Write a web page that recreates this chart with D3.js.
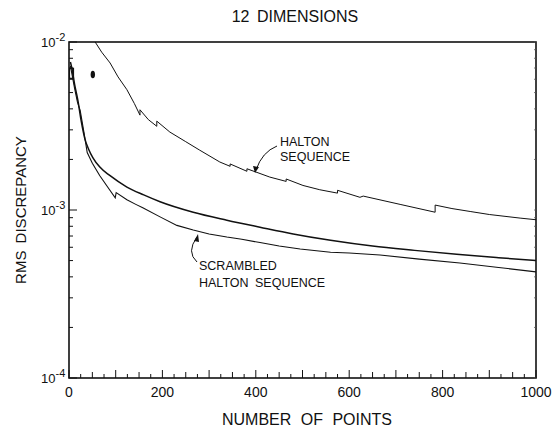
<!DOCTYPE html>
<html>
<head>
<meta charset="utf-8">
<script src="https://cdn.jsdelivr.net/npm/d3@7"></script>
<style>
  body { margin: 0; background: #fff; }
  text { font-family: "Liberation Sans", Arial, sans-serif; fill: #111; }
</style>
</head>
<body>
<div id="chart"></div>
<script>
// data
var haltonN = [45, 56, 70, 88, 105, 124, 140, 152, 152, 170, 188, 188, 216, 250, 280, 323, 345, 345, 381, 381,
  430, 465, 465, 501, 537, 575, 575, 623, 630, 709, 784, 784, 820, 859, 900, 966, 1000];
var haltonV = [1.25e-2, 1.0e-2, 8.7e-3, 7.5e-3, 6.2e-3, 5.2e-3, 4.3e-3, 3.67e-3, 3.95e-3, 3.45e-3, 3.15e-3, 3.38e-3,
  2.91e-3, 2.55e-3, 2.27e-3, 1.93e-3, 1.82e-3, 1.88e-3, 1.70e-3, 1.76e-3,
  1.57e-3, 1.48e-3, 1.53e-3, 1.40e-3, 1.32e-3, 1.26e-3, 1.31e-3, 1.19e-3, 1.21e-3, 1.08e-3, 9.7e-4, 1.07e-3,
  1.02e-3, 9.8e-4, 9.4e-4, 8.95e-4, 8.75e-4];

var smoothN = [3, 6, 12, 19, 26, 34, 42, 51, 66, 88, 124, 160, 195, 266, 338, 409, 480, 560, 650, 740, 830, 920, 1000];
var smoothV = [7.6e-3, 7.0e-3, 5.6e-3, 4.5e-3, 3.4e-3, 2.65e-3, 2.3e-3, 2.05e-3, 1.8e-3, 1.6e-3, 1.37e-3, 1.23e-3,
  1.12e-3, 9.7e-4, 8.7e-4, 7.9e-4, 7.2e-4, 6.6e-4, 6.1e-4, 5.75e-4, 5.45e-4, 5.2e-4, 5.0e-4];

var scrambledN = [3, 6, 12, 18, 24, 32, 39, 50, 66, 82, 99, 101, 124, 143, 158, 195, 231, 266, 300, 338, 370, 409,
  450, 495, 560, 600, 666, 750, 837, 920, 1000];
var scrambledV = [7.2e-3, 6.5e-3, 5.3e-3, 4.4e-3, 3.9e-3, 2.9e-3, 2.2e-3, 1.9e-3, 1.6e-3, 1.38e-3, 1.18e-3, 1.27e-3,
  1.15e-3, 1.08e-3, 1.03e-3, 9.1e-4, 8.1e-4, 7.6e-4, 7.2e-4, 6.9e-4, 6.7e-4, 6.4e-4,
  6.1e-4, 5.86e-4, 5.6e-4, 5.55e-4, 5.4e-4, 5.1e-4, 4.84e-4, 4.55e-4, 4.28e-4];

var markerN = [5, 51];
var markerV = [6.5e-3, 6.4e-3];

var xTicks = [0, 200, 400, 600, 800, 1000];
var yTickExp = [-2, -3, -4];

var W = 556, H = 435
  , m = { left: 69, right: 20, top: 42, bottom: 57 };

var x = d3.scaleLinear().domain([0, 1000]).range([m.left, W - m.right]);
var y = d3.scaleLog().domain([1e-4, 1e-2]).range([H - m.bottom, m.top]);

var svg = d3.select('#chart').append('svg')
  .attr('width', W).attr('height', H);

svg.append('clipPath').attr('id', 'clip')
  .append('rect')
  .attr('x', m.left).attr('y', m.top)
  .attr('width', x(1000) - x(0)).attr('height', y(1e-4) - y(1e-2));

// frame
svg.append('rect')
  .attr('x', m.left).attr('y', m.top)
  .attr('width', x(1000) - x(0)).attr('height', y(1e-4) - y(1e-2))
  .attr('fill', 'none').attr('stroke', '#111').attr('stroke-width', 1.6);

// x ticks, drawn inward
var xMinor = d3.range(0, 1001, 25);
svg.append('g').selectAll('line').data(xMinor).enter().append('line')
  .attr('x1', function(d) { return x(d); }).attr('x2', function(d) { return x(d); })
  .attr('y1', y(1e-4))
  .attr('y2', function(d) { return y(1e-4) - (d % 100 === 0 ? 8 : d % 50 === 0 ? 6 : 4); })
  .attr('stroke', '#111').attr('stroke-width', 1);

svg.append('g').selectAll('text').data(xTicks).enter().append('text')
  .attr('x', function(d) { return x(d); })
  .attr('y', 397)
  .attr('text-anchor', 'middle')
  .attr('font-size', 14)
  .text(function(d) { return d; });

// y ticks (log), inward on left, short on right
var yMinor = [];
[-4, -3].forEach(function(e) {
  d3.range(1, 10).forEach(function(k) { yMinor.push(k * Math.pow(10, e)); });
});
yMinor.push(1e-2);

svg.append('g').selectAll('line').data(yMinor).enter().append('line')
  .attr('x1', x(0))
  .attr('x2', function(d) { return x(0) + (Math.abs(Math.log10(d) % 1) < 1e-6 ? 8 : 4); })
  .attr('y1', function(d) { return y(d); }).attr('y2', function(d) { return y(d); })
  .attr('stroke', '#111').attr('stroke-width', 1);

svg.append('g').selectAll('line').data(yMinor).enter().append('line')
  .attr('x1', x(1000))
  .attr('x2', function(d) { return x(1000) - 2; })
  .attr('y1', function(d) { return y(d); }).attr('y2', function(d) { return y(d); })
  .attr('stroke', '#555').attr('stroke-width', 0.8);

var yLab = svg.append('g').selectAll('text').data(yTickExp).enter().append('text')
  .attr('x', 41)
  .attr('y', function(d) { return y(Math.pow(10, d)) + 5; })
  .attr('font-size', 13);
yLab.append('tspan').text('10');
yLab.append('tspan').attr('dy', -6).attr('font-size', 11)
  .text(function(d) { return '-' + Math.abs(d); });

// curves
var line = d3.line()
  .x(function(d) { return x(d[0]); })
  .y(function(d) { return y(d[1]); });

var plot = svg.append('g').attr('clip-path', 'url(#clip)');

plot.append('path')
  .datum(d3.zip(haltonN, haltonV))
  .attr('d', line)
  .attr('fill', 'none').attr('stroke', '#111').attr('stroke-width', 1);

plot.append('path')
  .datum(d3.zip(smoothN, smoothV))
  .attr('d', line.curve(d3.curveMonotoneX))
  .attr('fill', 'none').attr('stroke', '#111').attr('stroke-width', 1.5);

plot.append('path')
  .datum(d3.zip(scrambledN, scrambledV))
  .attr('d', line.curve(d3.curveLinear))
  .attr('fill', 'none').attr('stroke', '#111').attr('stroke-width', 1.1);

// isolated markers near the start
var mk = d3.zip(markerN, markerV);
plot.append('rect')
  .attr('x', x(mk[0][0]) - 2).attr('y', y(mk[0][1]) - 5)
  .attr('width', 4).attr('height', 10)
  .attr('fill', 'none').attr('stroke', '#111').attr('stroke-width', 1.5);
plot.append('ellipse')
  .attr('cx', x(mk[1][0])).attr('cy', y(mk[1][1]))
  .attr('rx', 2.2).attr('ry', 3.8)
  .attr('fill', '#111');

// annotations
svg.append('text').attr('x', 280).attr('y', 146).attr('font-size', 12.5).text('HALTON');
svg.append('text').attr('x', 280).attr('y', 161).attr('font-size', 12.5).text('SEQUENCE');
svg.append('path')
  .attr('d', 'M277,146 Q262,152 256,170')
  .attr('fill', 'none').attr('stroke', '#111').attr('stroke-width', 1);
svg.append('path')
  .attr('d', 'M253,166 L255,173 L259,167 Z')
  .attr('fill', '#111');

svg.append('text').attr('x', 199).attr('y', 270).attr('font-size', 12.5).text('SCRAMBLED');
svg.append('text').attr('x', 199).attr('y', 287).attr('font-size', 12.5).attr('word-spacing', 3)
  .text('HALTON SEQUENCE');
svg.append('path')
  .attr('d', 'M197,262 Q186,252 197,237')
  .attr('fill', 'none').attr('stroke', '#111').attr('stroke-width', 1);
svg.append('path')
  .attr('d', 'M194,241 L198,234 L199,242 Z')
  .attr('fill', '#111');

// titles
svg.append('text')
  .attr('x', 295).attr('y', 22)
  .attr('text-anchor', 'middle').attr('font-size', 16).attr('word-spacing', 3)
  .text('12 DIMENSIONS');

svg.append('text')
  .attr('x', 307).attr('y', 425)
  .attr('text-anchor', 'middle').attr('font-size', 16).attr('word-spacing', 5)
  .text('NUMBER OF POINTS');

svg.append('text')
  .attr('transform', 'translate(26,210) rotate(-90)')
  .attr('text-anchor', 'middle').attr('font-size', 15).attr('word-spacing', 3)
  .text('RMS DISCREPANCY');
</script>
</body>
</html>
